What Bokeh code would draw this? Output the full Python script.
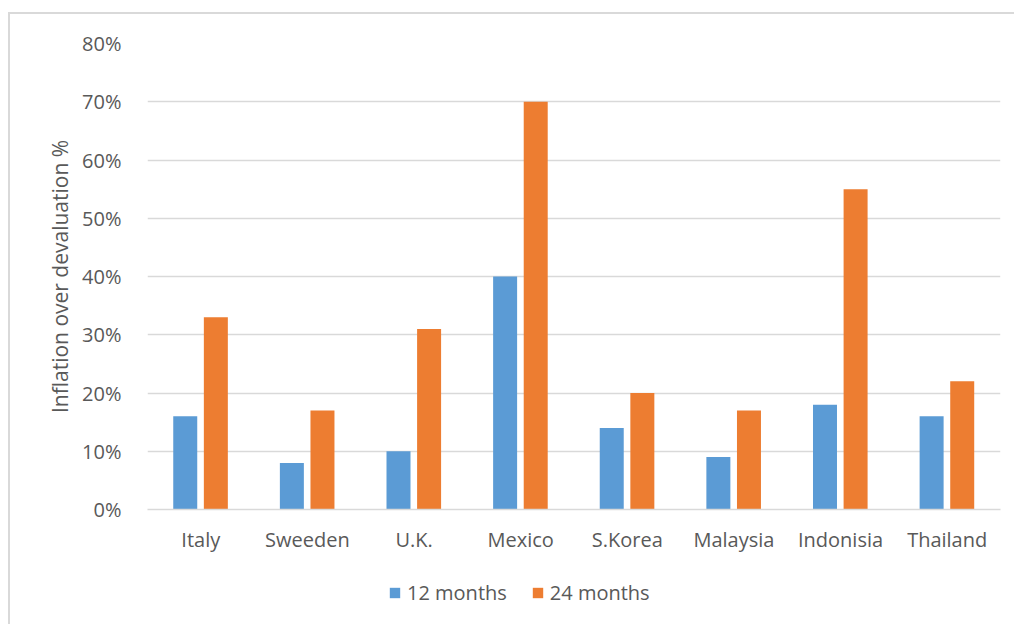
from bokeh.plotting import figure
from bokeh.models import FactorRange, Range1d, FixedTicker, NumeralTickFormatter, Legend, ColumnDataSource
from bokeh.layouts import column
from bokeh.transform import dodge
from bokeh.embed import file_html
from bokeh.resources import INLINE

countries = ["Italy", "Sweeden", "U.K.", "Mexico", "S.Korea", "Malaysia", "Indonisia", "Thailand"]
m12 = [0.16, 0.08, 0.10, 0.40, 0.14, 0.09, 0.18, 0.16]
m24 = [0.33, 0.17, 0.31, 0.70, 0.20, 0.17, 0.55, 0.22]
y_ticks = [0, 0.1, 0.2, 0.3, 0.4, 0.5, 0.6, 0.7, 0.8]
series_names = ["12 months", "24 months"]
series_colors = ["#5B9BD5", "#ED7D31"]

src = ColumnDataSource(dict(c=countries, m12=m12, m24=m24))

FONT = "Open Sans"
TXT = "#595959"

p = figure(x_range=FactorRange(*countries, range_padding=0), y_range=Range1d(0, 0.8),
           frame_width=853, frame_height=466,
           min_border_left=137, min_border_right=14, min_border_top=29, min_border_bottom=60,
           output_backend="svg", toolbar_location=None)

p.vbar(x=dodge("c", -0.146, range=p.x_range), top="m12", width=0.225, source=src,
       fill_color=series_colors[0], line_color=None)
p.vbar(x=dodge("c", 0.141, range=p.x_range), top="m24", width=0.225, source=src,
       fill_color=series_colors[1], line_color=None)

p.outline_line_color = None
p.xgrid.grid_line_color = None
p.ygrid.grid_line_color = "#D9D9D9"
p.ygrid.grid_line_width = 1.3

p.yaxis.ticker = FixedTicker(ticks=y_ticks)
p.yaxis.formatter = NumeralTickFormatter(format="0%")
p.yaxis.axis_line_color = None
p.yaxis.major_tick_line_color = None
p.yaxis.minor_tick_line_color = None
p.yaxis.major_label_standoff = 20
p.yaxis.major_label_text_font = FONT
p.yaxis.major_label_text_font_size = "20px"
p.yaxis.major_label_text_color = TXT
p.yaxis.axis_label = "Inflation over devaluation %"
p.yaxis.axis_label_text_font = FONT
p.yaxis.axis_label_text_font_size = "21px"
p.yaxis.axis_label_text_font_style = "normal"
p.yaxis.axis_label_text_color = TXT
p.yaxis.axis_label_standoff = 5

p.xaxis.axis_line_color = "#D9D9D9"
p.xaxis.axis_line_width = 1.3
p.xaxis.major_tick_line_color = None
p.xaxis.minor_tick_line_color = None
p.xaxis.major_label_standoff = 10
p.xaxis.major_label_text_font = FONT
p.xaxis.major_label_text_font_size = "20px"
p.xaxis.major_label_text_color = TXT

# legend strip below the chart (proxy renderers lie outside its visible range)
p2 = figure(x_range=Range1d(0, 1), y_range=Range1d(0, 1),
            frame_width=853, frame_height=55,
            min_border_left=137, min_border_right=14, min_border_top=0, min_border_bottom=0,
            output_backend="svg", toolbar_location=None)
p2.axis.visible = False
p2.grid.visible = False
p2.outline_line_color = None
lr1 = p2.vbar(x=[-5], top=[-5], width=0.1, fill_color=series_colors[0], line_color=None)
lr2 = p2.vbar(x=[-5], top=[-5], width=0.1, fill_color=series_colors[1], line_color=None)

legend = Legend(items=[(series_names[0], [lr1]), (series_names[1], [lr2])], orientation="horizontal",
                location=(241, 18), padding=0, margin=0, spacing=24,
                glyph_width=13, glyph_height=13, label_standoff=6,
                label_text_font=FONT, label_text_font_size="20px", label_text_color=TXT,
                border_line_color=None, background_fill_alpha=0)
p2.add_layout(legend)

layout = column(p, p2, spacing=0,
                styles={"margin-left": "8px", "margin-top": "12px",
                        "border-left": "2px solid #d9d9d9", "border-top": "2px solid #d9d9d9"})

open("out.html", "w").write(file_html(layout, INLINE))
